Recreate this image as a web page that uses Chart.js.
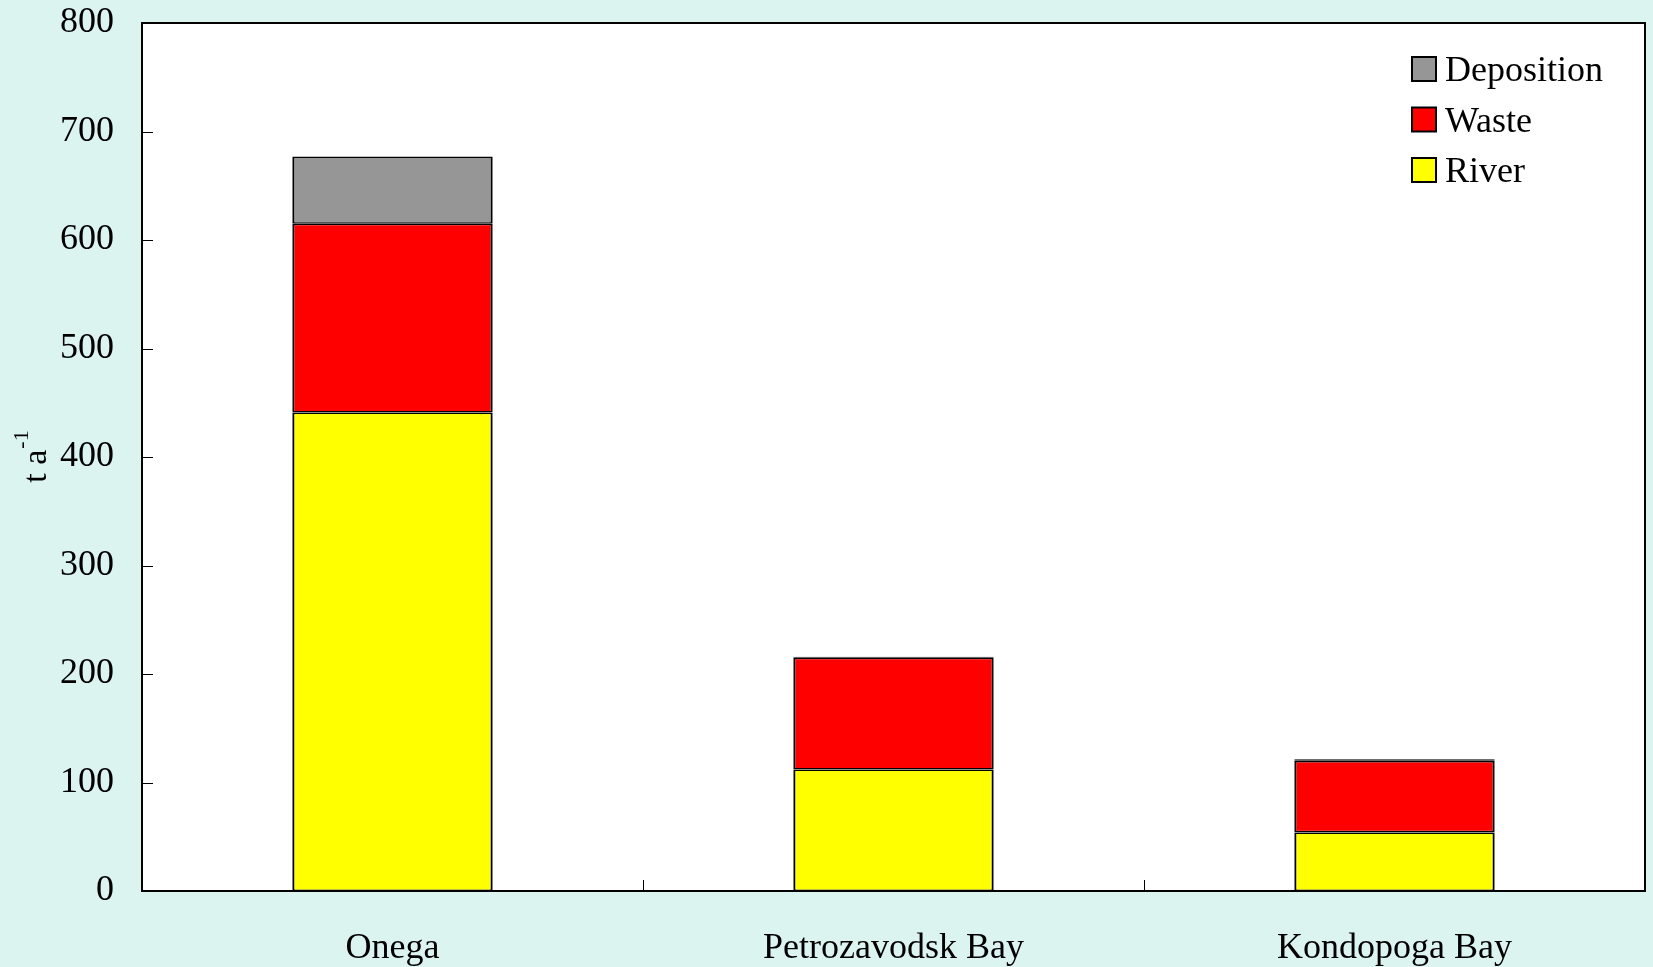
<!DOCTYPE html>
<html lang="en">
<head>
  <meta charset="UTF-8" />
  <title>Loads to Lake Onega</title>
  <script src="https://cdn.jsdelivr.net/npm/chart.js"></script>
  <style>
    html, body {
      margin: 0;
      padding: 0;
      background-color: #dcf4f0;
    }
    #loadChart {
      display: block;
    }
  </style>
</head>
<body>
  <canvas id="loadChart" width="1653" height="967"></canvas>

  <script>
    const categories = ["Onega", "Petrozavodsk Bay", "Kondopoga Bay"];
    const river = [441, 112, 54];
    const waste = [174, 103, 66];
    const deposition = [62, 1, 1.5];
    const yTicks = [0, 100, 200, 300, 400, 500, 600, 700, 800];

    const serif = "'Liberation Serif', 'Times New Roman', serif";

    // white plot area, frame, inward ticks, legend and y title
    const decorPlugin = {
      id: "decor",
      beforeDraw(chart) {
        const a = chart.chartArea;
        const ctx = chart.ctx;
        ctx.save();
        ctx.fillStyle = "#ffffff";
        ctx.fillRect(a.left, a.top, a.right - a.left, a.bottom - a.top);
        ctx.restore();
      },
      afterDraw(chart) {
        const a = chart.chartArea;
        const ctx = chart.ctx;
        const x = chart.scales.x;
        const y = chart.scales.y;
        ctx.save();
        ctx.strokeStyle = "#000";
        ctx.lineWidth = 2;
        ctx.strokeRect(a.left, a.top, a.right - a.left, a.bottom - a.top);

        ctx.lineWidth = 1;
        ctx.beginPath();
        yTicks.forEach(v => {
          const py = Math.round(y.getPixelForValue(v)) + 0.5;
          ctx.moveTo(a.left, py);
          ctx.lineTo(a.left + 11, py);
        });
        for (let i = 1; i < categories.length; i++) {
          const px = Math.round((x.getPixelForValue(i - 1) + x.getPixelForValue(i)) / 2) + 0.5;
          ctx.moveTo(px, a.bottom);
          ctx.lineTo(px, a.bottom - 11);
        }
        ctx.stroke();

        // legend, top right inside the plot
        const sets = chart.data.datasets.slice().reverse();
        const boxX = a.right - 233;
        let cy = a.top + 46;
        ctx.font = "36px " + serif;
        ctx.textBaseline = "alphabetic";
        ctx.textAlign = "left";
        sets.forEach(ds => {
          ctx.fillStyle = ds.backgroundColor;
          ctx.fillRect(boxX, cy - 12, 24, 24);
          ctx.lineWidth = 2;
          ctx.strokeStyle = "#000";
          ctx.strokeRect(boxX, cy - 12, 24, 24);
          ctx.fillStyle = "#000";
          ctx.fillText(ds.label, boxX + 33, cy + 12);
          cy += 50.5;
        });

        // y axis title: t a^-1
        ctx.translate(46, (a.top + a.bottom) / 2);
        ctx.rotate(-Math.PI / 2);
        ctx.font = "34px " + serif;
        const main = "t a";
        const wMain = ctx.measureText(main).width;
        ctx.font = "22px " + serif;
        const wSup = ctx.measureText("-1").width;
        const start = -(wMain + wSup) / 2;
        ctx.font = "34px " + serif;
        ctx.fillText(main, start, 0);
        ctx.font = "22px " + serif;
        ctx.fillText("-1", start + wMain + 1, -18);
        ctx.restore();
      }
    };

    new Chart(document.getElementById("loadChart"), {
      type: "bar",
      data: {
        labels: categories,
        datasets: [
          { label: "River", data: river, backgroundColor: "#ffff00" },
          { label: "Waste", data: waste, backgroundColor: "#ff0000" },
          { label: "Deposition", data: deposition, backgroundColor: "#969696" }
        ].map(ds => Object.assign(ds, {
          borderColor: "#000000",
          borderWidth: { top: 1.6, bottom: 1.6, left: 2.2, right: 2.2 },
          borderSkipped: false,
          categoryPercentage: 1,
          barPercentage: 0.4
        }))
      },
      options: {
        responsive: false,
        animation: false,
        layout: {
          padding: { top: 0, right: 8, left: 0, bottom: 0 }
        },
        plugins: {
          legend: { display: false },
          tooltip: { enabled: false }
        },
        scales: {
          x: {
            stacked: true,
            grid: { display: false, drawTicks: false },
            border: { display: false },
            ticks: {
              color: "#000",
              padding: 36,
              font: { family: serif, size: 36 }
            },
            afterFit: s => { s.height = 76; }
          },
          y: {
            stacked: true,
            min: 0,
            max: 800,
            afterBuildTicks: s => { s.ticks = yTicks.map(v => ({ value: v })); },
            grid: { display: false, drawTicks: false },
            border: { display: false },
            ticks: {
              color: "#000",
              padding: 28,
              font: { family: serif, size: 36 }
            },
            afterFit: s => {
              s.width = 142;
              s.paddingTop = 23;
              s.paddingBottom = 0;
            }
          }
        }
      },
      plugins: [decorPlugin]
    });
  </script>
</body>
</html>
